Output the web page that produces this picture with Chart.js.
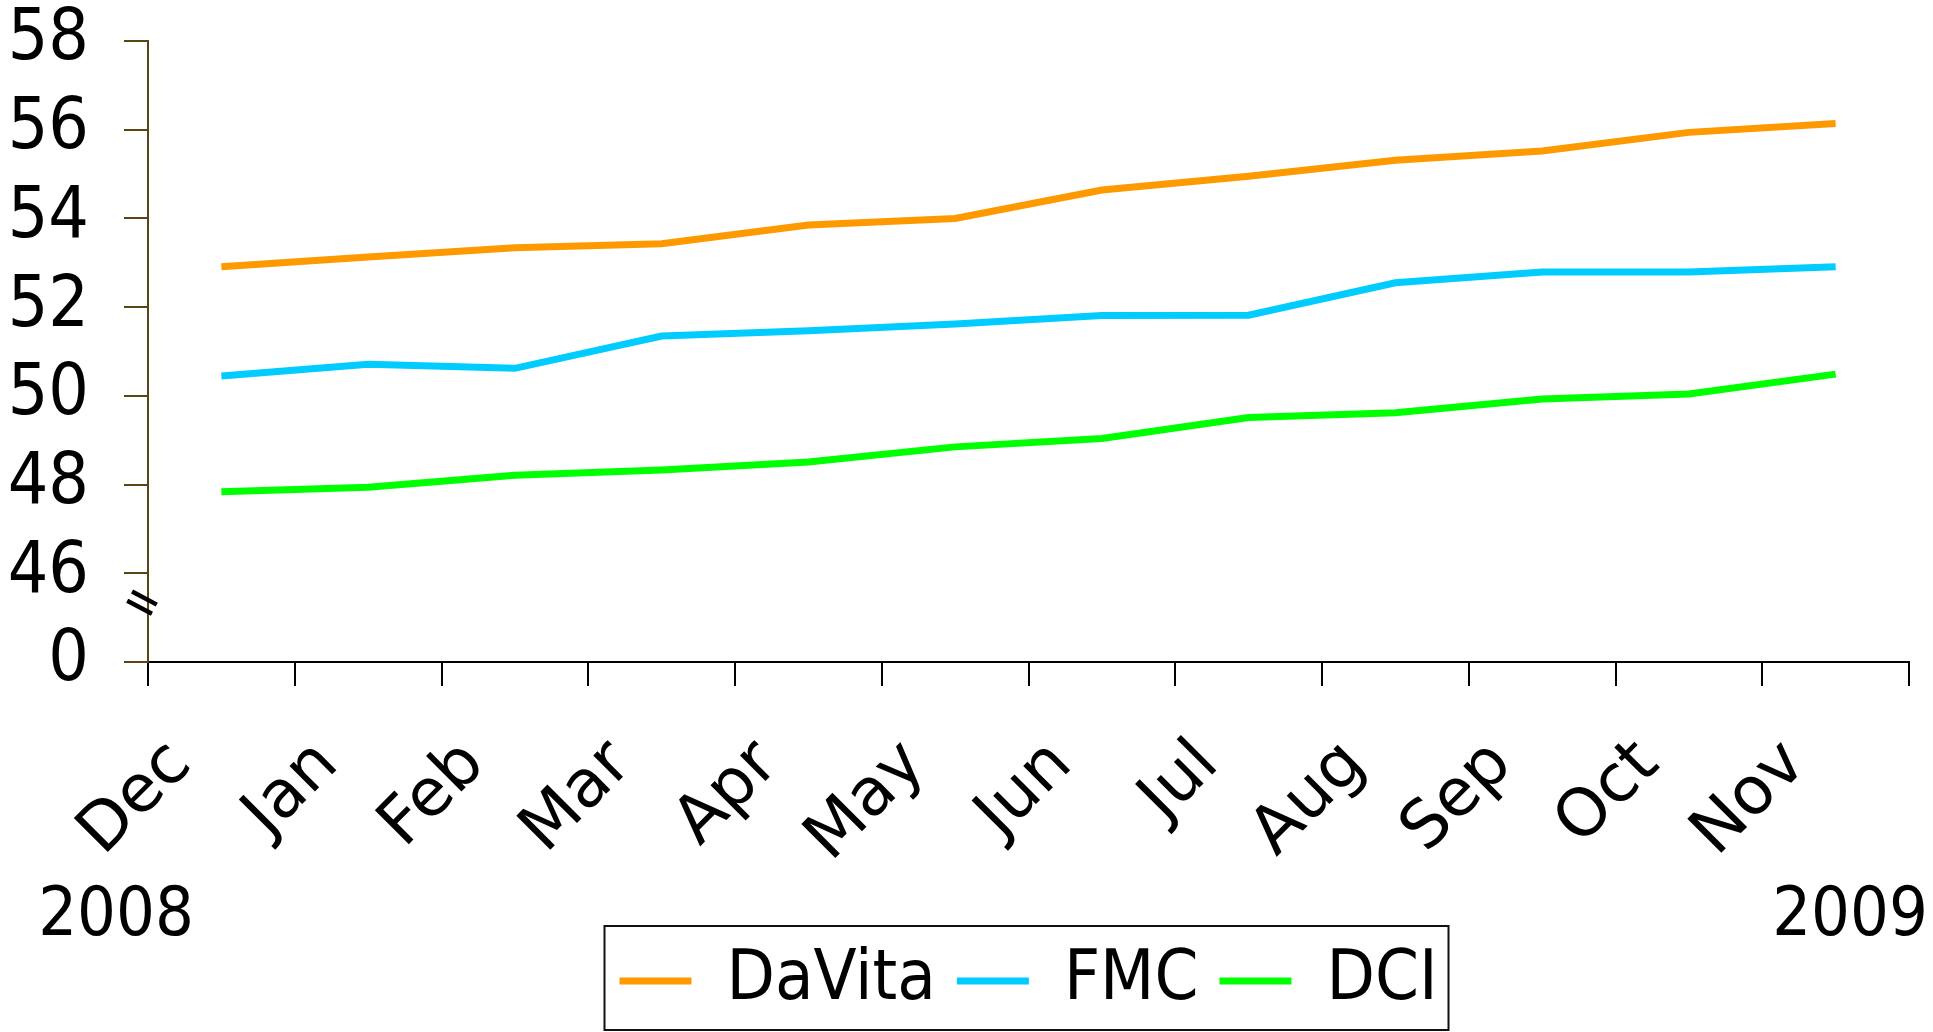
<!DOCTYPE html>
<html>
<head>
<meta charset="utf-8">
<title>DaVita / FMC / DCI</title>
<script src="https://cdn.jsdelivr.net/npm/chart.js@4.4.1/dist/chart.umd.min.js"></script>
<style>
  html,body{margin:0;padding:0;background:#fff;}
  #wrap{position:relative;width:1933px;height:1032px;}
</style>
</head>
<body>
<div id="wrap"><canvas id="chart"></canvas></div>
<script>
// ══════════════ DONNÉES ══════════════
const MONTHS = ['Dec','Jan','Feb','Mar','Apr','May','Jun','Jul','Aug','Sep','Oct','Nov'];
const YEARS = ['2008','2009'];
const DAVITA = [52.91,53.13,53.34,53.43,53.85,54.00,54.64,54.95,55.31,55.52,55.94,56.14];
const FMC    = [50.45,50.71,50.62,51.35,51.47,51.62,51.81,51.82,52.55,52.79,52.79,52.91];
const DCI    = [47.84,47.94,48.21,48.33,48.51,48.85,49.04,49.51,49.62,49.93,50.04,50.49];
const SERIES_NAMES = ['DaVita','FMC','DCI'];
const SERIES_COLORS = ['#ff9900','#00ccff','#00ff00'];
// axe Y coupé : le bas de l'échelle (44) est affiché comme "0"
const Y_MIN = 44, Y_MAX = 58, Y_STEP = 2;
const Y_BREAK_LABEL = '0';

// ══════════════ STYLE ══════════════
const FONT = "'DejaVu Sans', Verdana, sans-serif";
const FONT_COND = "'DejaVu Sans Condensed', 'DejaVu Sans', sans-serif";
const AXIS_BROWN = '#5a4614';

// légende centrée sous la zone de tracé + cadre, coupure d'axe, années
const extrasPlugin = {
  id: 'extras',
  afterLayout(chart){
    const lg = chart.legend;
    if(!lg) return;
    const dx = (chart.chartArea.left + chart.chartArea.right)/2 - (lg.left + lg.right)/2;
    lg.left += dx; lg.right += dx;
  },
  afterDraw(chart){
    const {ctx} = chart;
    const xs = chart.scales.x, ys = chart.scales.y;
    ctx.save();

    // coupure de l'axe Y (deux traits obliques)
    const cy = ys.getPixelForValue(Y_MIN + 1) - 15;
    const cx = xs.left - 6;
    const ang = 28 * Math.PI / 180;
    const ux = Math.cos(ang), uy = Math.sin(ang);
    const px = -uy, py = ux;
    ctx.strokeStyle = '#000'; ctx.lineWidth = 4.5; ctx.lineCap = 'butt';
    [-5.2, 5.2].forEach(o=>{
      const mx = cx + px*o, my = cy + py*o;
      ctx.beginPath();
      ctx.moveTo(mx - ux*14, my - uy*14);
      ctx.lineTo(mx + ux*14, my + uy*14);
      ctx.stroke();
    });

    // années sous les mois
    ctx.fillStyle = '#000';
    ctx.font = `68px ${FONT_COND}`;
    ctx.textAlign = 'center'; ctx.textBaseline = 'alphabetic';
    ctx.fillText(YEARS[0], xs.left - 32, xs.bottom + 10);
    ctx.fillText(YEARS[1], xs.right - 59, xs.bottom + 10);

    // cadre de la légende
    const lg = chart.legend;
    if(lg && lg.lineWidths){
      const pad = lg.options.labels.padding;
      const lw = lg.lineWidths[0];
      const x0 = (lg.left + pad + lg.right - lw)/2;
      const x1 = x0 + lw - pad;
      ctx.strokeStyle = '#111'; ctx.lineWidth = 2;
      ctx.strokeRect(x0 - 15, lg.top + 1, (x1 - x0) + 26, 104);
    }
    ctx.restore();
  }
};

function buildDatasets(){
  const values = [DAVITA, FMC, DCI];
  return SERIES_NAMES.map((name,i)=>({
    label: name,
    data: values[i],
    borderColor: SERIES_COLORS[i],
    backgroundColor: SERIES_COLORS[i],
    borderWidth: 7,
    borderCapStyle: 'butt',
    pointRadius: 0,
    tension: 0,
    fill: false
  }));
}

new Chart(document.getElementById('chart'), {
  type: 'line',
  data: { labels: MONTHS, datasets: buildDatasets() },
  options: {
    responsive: true,
    maintainAspectRatio: false,
    devicePixelRatio: 1,
    animation: false,
    layout: { padding: { top: 41, right: 24, bottom: 6, left: 0 } },
    plugins: {
      tooltip: { enabled: false },
      legend: {
        position: 'bottom',
        labels: {
          boxWidth: 72, boxHeight: 7, padding: 21, color: '#000',
          font: { family: FONT_COND, size: 70 },
          generateLabels: chart => chart.data.datasets.map((ds,i)=>({
            text: ds.label, fillStyle: ds.borderColor, strokeStyle: ds.borderColor,
            lineWidth: 0, hidden: false, datasetIndex: i
          }))
        }
      }
    },
    scales: {
      x: {
        type: 'category',
        offset: true,
        grid: { offset: true, drawOnChartArea: false, drawTicks: true, tickLength: 24, color: '#000', lineWidth: 2 },
        border: { display: true, color: '#000', width: 2 },
        ticks: {
          autoSkip: false, minRotation: 45, maxRotation: 45,
          padding: 40, labelOffset: -40, color: '#000',
          font: { family: FONT, size: 66 }
        },
        afterFit(scale){ scale.height = 263; }
      },
      y: {
        type: 'linear',
        min: Y_MIN, max: Y_MAX,
        grid: { drawOnChartArea: false, drawTicks: true, tickLength: 24, color: AXIS_BROWN, lineWidth: 2 },
        border: { display: true, color: AXIS_BROWN, width: 2 },
        ticks: {
          autoSkip: false, stepSize: Y_STEP, padding: 35, color: '#000',
          font: { family: FONT_COND, size: 71 },
          callback: v => v === Y_MIN ? Y_BREAK_LABEL : String(v)
        },
        afterFit(scale){
          scale.width = 148;
          // la marge des étiquettes ne doit pas rogner le haut de la zone de tracé
          scale.paddingTop = 0; scale.paddingBottom = 0;
        }
      }
    }
  },
  plugins: [extrasPlugin]
});
</script>
</body>
</html>
